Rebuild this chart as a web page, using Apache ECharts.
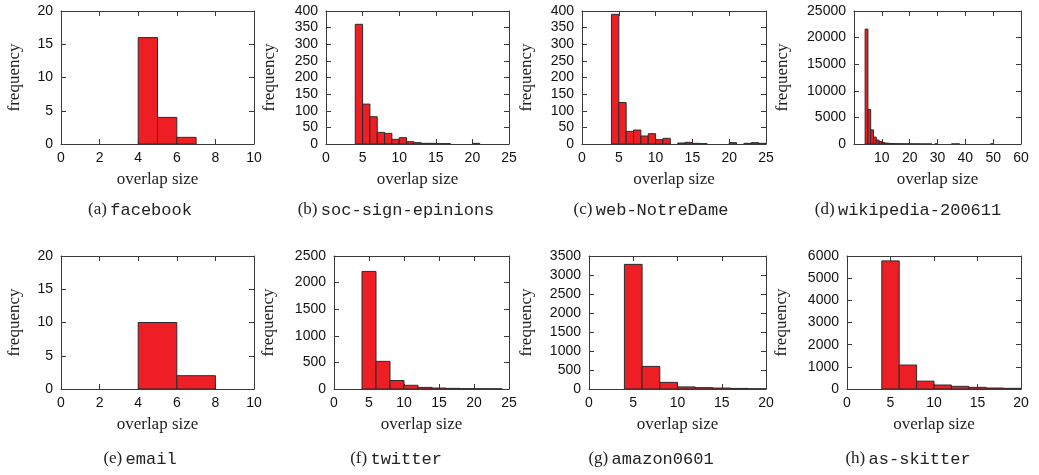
<!DOCTYPE html>
<html>
<head>
<meta charset="utf-8">
<script src="https://cdn.jsdelivr.net/npm/echarts@6/dist/echarts.min.js"></script>
<style>
  html, body { margin: 0; padding: 0; background: #ffffff; }
  #chart { width: 1039px; height: 475px; }
</style>
</head>
<body>
<div id="chart"></div>
<script>
// Overlap-size histograms for eight networks.
// Each counts array lists bin frequencies, starting at the bin's left edge with a fixed bin width.
const facebookCounts  = [16, 4, 1];                 // bins of width 1 from 4
const epinionsCounts  = [360, 120, 82, 35, 32, 14, 19, 7, 4, 2, 2, 1, 1, 0, 0, 0, 2]; // width 1 from 4
const notreDameCounts = [390, 125, 38, 42, 24, 31, 13, 17, 0, 3, 5, 2, 1, 0, 0, 0, 4, 0, 2, 4, 2]; // width 1 from 4
const wikipediaCounts = [21600, 6500, 2650, 1300, 750, 450, 280, 180, 130, 95, 70, 55, 45, 35, 30, 25,
                         22, 18, 15, 12, 10, 9, 8, 6, 0, 5, 0, 0, 0, 0, 0, 4, 5, 3, 0, 0, 0, 0, 0, 0,
                         0, 0, 0, 0, 0, 4];         // width 1 from 4
const emailCounts     = [10, 2];                    // width 2 from 4
const twitterCounts   = [2210, 520, 160, 70, 30, 18, 12, 6, 4, 3]; // width 2 from 4
const amazonCounts    = [3280, 595, 175, 55, 35, 25, 15, 5];       // width 2 from 4
const skitterCounts   = [5780, 1080, 355, 180, 120, 75, 45, 30];   // width 2 from 4

const captionTags  = ['(a)', '(b)', '(c)', '(d)', '(e)', '(f)', '(g)', '(h)'];
const datasetNames = ['facebook', 'soc-sign-epinions', 'web-NotreDame', 'wikipedia-200611',
                      'email', 'twitter', 'amazon0601', 'as-skitter'];
const binStarts = [4, 4, 4, 4, 4, 4, 4, 4];
const binWidths = [1, 1, 1, 1, 2, 2, 2, 2];
const xMaxima   = [10, 25, 25, 60, 10, 25, 20, 20];
const xSteps    = [2, 5, 5, 10, 2, 5, 5, 5];
const yMaxima   = [20, 400, 400, 25000, 20, 2500, 3500, 6000];
const ySteps    = [5, 50, 50, 5000, 5, 500, 500, 1000];
const allCounts = [facebookCounts, epinionsCounts, notreDameCounts, wikipediaCounts,
                   emailCounts, twitterCounts, amazonCounts, skitterCounts];

// Plot placement for each panel
const layout = [
  { left: 61,  top: 11,  width: 193, height: 133, yGap: 38, capX: 140, capY: 210 },
  { left: 326, top: 11,  width: 183, height: 133, yGap: 48, capX: 396, capY: 210 },
  { left: 582, top: 11,  width: 184, height: 133, yGap: 47, capX: 651, capY: 210 },
  { left: 854, top: 11,  width: 167, height: 133, yGap: 63, capX: 908, capY: 210 },
  { left: 61,  top: 256, width: 193, height: 133, yGap: 38, capX: 140, capY: 459 },
  { left: 334, top: 256, width: 175, height: 133, yGap: 57, capX: 396, capY: 459 },
  { left: 589, top: 256, width: 177, height: 133, yGap: 54, capX: 651, capY: 459 },
  { left: 847, top: 256, width: 174, height: 133, yGap: 57, capX: 908, capY: 459 }
];

const frameColor = '#3a3a3a';
const barFill = '#ed1f24';
const barEdge = '#2b2b2b';
const sansFont = '"Liberation Sans", Arial, sans-serif';
const serifFont = '"Liberation Serif", "Times New Roman", serif';
const monoFont = '"Liberation Mono", "DejaVu Sans Mono", monospace';

function binRows(counts, start, width) {
  const rows = [];
  counts.forEach((c, i) => {
    if (c > 0) rows.push([start + i * width, start + (i + 1) * width, c]);
  });
  return rows;
}

const plainNumber = v => String(v);
const grids = [], xAxes = [], yAxes = [], series = [], graphics = [];

layout.forEach((L, i) => {
  grids.push({ left: L.left, top: L.top, width: L.width, height: L.height,
               show: false, containLabel: false });

  const line = { show: true, onZero: false, lineStyle: { color: frameColor, width: 1 } };
  const tick = { show: true, inside: true, length: 5, lineStyle: { color: frameColor, width: 1 } };
  const label = { color: '#111', fontFamily: sansFont, fontSize: 14, formatter: plainNumber };

  // bottom x axis with labels and title
  xAxes.push({
    gridIndex: i, type: 'value', position: 'bottom',
    min: 0, max: xMaxima[i], interval: xSteps[i],
    axisLine: line, axisTick: tick, splitLine: { show: false },
    axisLabel: Object.assign({ margin: 7, showMinLabel: i !== 3 }, label),
    name: 'overlap size', nameLocation: 'middle', nameGap: 27,
    nameTextStyle: { fontFamily: serifFont, fontSize: 17, color: '#222' }
  });
  // mirrored top axis (ticks only)
  xAxes.push({
    gridIndex: i, type: 'value', position: 'top',
    min: 0, max: xMaxima[i], interval: xSteps[i],
    axisLine: line, axisTick: tick, axisLabel: { show: false }, splitLine: { show: false }
  });
  // left y axis with labels and title
  yAxes.push({
    gridIndex: i, type: 'value', position: 'left',
    min: 0, max: yMaxima[i], interval: ySteps[i],
    axisLine: line, axisTick: tick, splitLine: { show: false },
    axisLabel: Object.assign({ margin: 8 }, label),
    name: 'frequency', nameLocation: 'middle', nameGap: L.yGap,
    nameTextStyle: { fontFamily: serifFont, fontSize: 17, color: '#222' }
  });
  // mirrored right axis (ticks only)
  yAxes.push({
    gridIndex: i, type: 'value', position: 'right',
    min: 0, max: yMaxima[i], interval: ySteps[i],
    axisLine: line, axisTick: tick, axisLabel: { show: false }, splitLine: { show: false }
  });

  series.push({
    type: 'custom',
    coordinateSystem: 'cartesian2d',
    xAxisIndex: 2 * i, yAxisIndex: 2 * i,
    data: binRows(allCounts[i], binStarts[i], binWidths[i]),
    silent: true,
    clip: true,
    renderItem: function (params, api) {
      const topLeft = api.coord([api.value(0), api.value(2)]);
      const bottomRight = api.coord([api.value(1), 0]);
      return {
        type: 'rect',
        shape: { x: topLeft[0], y: topLeft[1],
                 width: bottomRight[0] - topLeft[0], height: bottomRight[1] - topLeft[1] },
        style: { fill: barFill, stroke: barEdge, lineWidth: 1 }
      };
    }
  });

  graphics.push({
    type: 'text', x: L.capX, y: L.capY,
    style: {
      text: '{t|' + captionTags[i] + '} {m|' + datasetNames[i] + '}',
      align: 'center', verticalAlign: 'middle',
      rich: {
        t: { fontFamily: serifFont, fontSize: 17, fill: '#222' },
        m: { fontFamily: monoFont, fontSize: 17, fill: '#222' }
      }
    }
  });
});

const chart = echarts.init(document.getElementById('chart'), null, { renderer: 'canvas' });
chart.setOption({
  animation: false,
  backgroundColor: '#ffffff',
  grid: grids,
  xAxis: xAxes,
  yAxis: yAxes,
  series: series,
  graphic: graphics
});
</script>
</body>
</html>
